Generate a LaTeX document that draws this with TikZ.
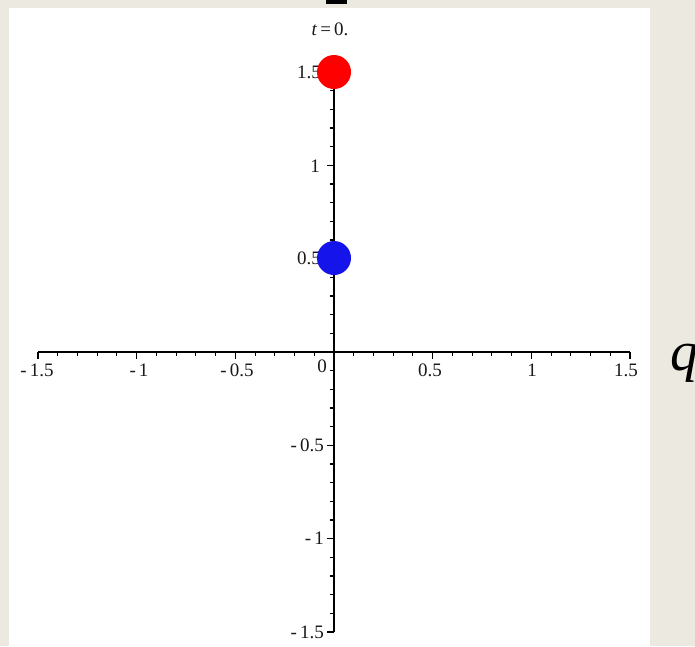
\documentclass[tikz,border=0pt]{standalone}
\usepackage{fontspec}
\setmainfont{Liberation Serif}
\definecolor{bgbeige}{RGB}{236,233,224}
\definecolor{dotblue}{RGB}{20,20,235}
\begin{document}
\begin{tikzpicture}[x=1pt,y=-1pt,
  axisline/.style={line width=1.4pt, black},
  tickline/.style={line width=1.1pt, black},
  ticklabel/.style={font=\fontsize{19}{19}\selectfont, inner sep=0pt, text=black!90},
  dot/.style={circle, minimum size=34pt, inner sep=0pt}]
\useasboundingbox (0,0) rectangle (695,646);
\fill[bgbeige] (0,0) rectangle (695,646);
\fill[white] (9,8) rectangle (650,646);
\fill[black] (326,0) rectangle (347,4);
% axes
\coordinate (xl) at (38,352);
\coordinate (xr) at (630,352);
\coordinate (yt) at (334,72);
\coordinate (yb) at (334,632);
\draw[axisline] (xl) -- (xr);
\draw[axisline] (yt) -- (yb);
% ticks
\foreach \i in {-15,...,15}{
  \pgfmathsetmacro{\px}{334+\i*19.733}
  \pgfmathsetmacro{\py}{352-\i*18.667}
  \pgfmathtruncatemacro{\m}{mod(abs(\i),5)}
  \ifnum\m=0
    \draw[tickline] (\px,352) -- ++(0,7);
    \draw[tickline] (334,\py) -- ++(-7,0);
  \else
    \draw[tickline] (\px,352) -- ++(0,4);
    \draw[tickline] (334,\py) -- ++(-4,0);
  \fi
}
% x labels
\node[ticklabel] (lxm15) at (37,370) {-\,1.5};
\node[ticklabel] (lxm1) at (139,370) {-\,1};
\node[ticklabel] (lxm05) at (237,370) {-\,0.5};
\node[ticklabel] (lx0) at (322,366) {0};
\node[ticklabel] (lx05) at (430,370) {0.5};
\node[ticklabel] (lx1) at (532,370) {1};
\node[ticklabel] (lx15) at (626,370) {1.5};
% y labels
\node[ticklabel, anchor=east] (ly15) at (321,72) {1.5};
\node[ticklabel, anchor=east] (ly1) at (320,166) {1};
\node[ticklabel, anchor=east] (ly05) at (321,258) {0.5};
\node[ticklabel, anchor=east] (lym05) at (324,445) {-\,0.5};
\node[ticklabel, anchor=east] (lym1) at (324,538) {-\,1};
\node[ticklabel, anchor=east] (lym15) at (324,632) {-\,1.5};
% title
\node[ticklabel] (title) at (330,29) {\textit{t}\,=\,0.};
% dots
\node[dot, fill=red] (red) at (334,72) {};
\node[dot, fill=dotblue] (blue) at (334,258) {};
% q
\node[font=\fontsize{56}{56}\selectfont\itshape, inner sep=0pt, anchor=base west] (q) at (670,370) {q};
\end{tikzpicture}
\end{document}
